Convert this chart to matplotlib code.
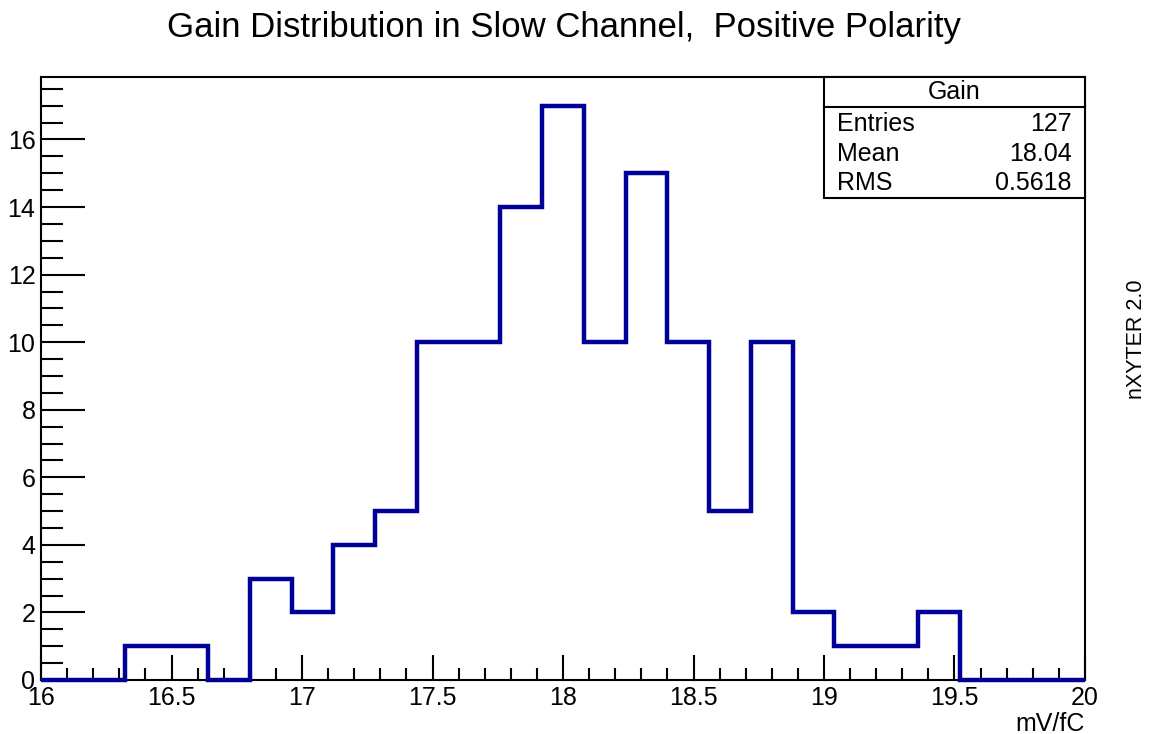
import numpy as np
import matplotlib
matplotlib.use("Agg")
import matplotlib.pyplot as plt
from matplotlib.patches import Rectangle
from matplotlib.ticker import MultipleLocator

plt.rcParams['font.family'] = ['Liberation Sans', 'DejaVu Sans']

# histogram data (25 bins, 16..20)
x_min, x_max, n_bins = 16.0, 20.0, 25
counts = [0, 0, 1, 1, 0, 3, 2, 4, 5, 10, 10, 14, 17,
          10, 15, 10, 5, 10, 2, 1, 1, 2, 0, 0, 0]
stats_labels = ["Entries", "Mean", "RMS"]
stats_values = ["127", "18.04", "0.5618"]

edges = np.linspace(x_min, x_max, n_bins + 1)

fig = plt.figure(figsize=(11.53, 7.34), dpi=100)
ax = fig.add_axes([0.0356, 0.0736, 0.9054, 0.8215])

ax.stairs(counts, edges, color='#000099', linewidth=3.2, baseline=0,
          clip_on=False, zorder=3)

ax.set_xlim(x_min, x_max)
ax.set_ylim(0, 17.85)

ax.xaxis.set_major_locator(MultipleLocator(0.5))
ax.xaxis.set_minor_locator(MultipleLocator(0.1))
ax.yaxis.set_major_locator(MultipleLocator(2))
ax.yaxis.set_minor_locator(MultipleLocator(0.5))

ax.tick_params(axis='x', which='major', direction='in', length=18, width=1.5,
               labelsize=18, pad=4)
ax.tick_params(axis='x', which='minor', direction='in', length=9, width=1.5)
ax.tick_params(axis='y', which='major', direction='in', length=32, width=1.5,
               labelsize=18, pad=4)
ax.tick_params(axis='y', which='minor', direction='in', length=16, width=1.5)
ax.xaxis.set_major_formatter(matplotlib.ticker.FuncFormatter(lambda v, p: f"{v:g}"))

for s in ax.spines.values():
    s.set_linewidth(1.5)

ax.set_xlabel("mV/fC", fontsize=18, loc='right', labelpad=2)

fig.text(0.489, 0.962, "Gain Distribution in Slow Channel,  Positive Polarity",
         ha='center', va='center', fontsize=25)
fig.text(0.986, 0.538, "nXYTER 2.0", rotation=90, ha='center', va='center',
         fontsize=15.5)

# stats box
bx0, by0 = 0.75, 0.799
ax.add_patch(Rectangle((bx0, by0), 1 - bx0, 1 - by0, transform=ax.transAxes,
                       facecolor='white', edgecolor='black', linewidth=1.5,
                       zorder=5, clip_on=False))
ax.plot([bx0, 1.0], [0.950, 0.950], transform=ax.transAxes, color='black',
        linewidth=1.5, zorder=6, clip_on=False)
ax.text((bx0 + 1) / 2, 0.975, "Gain", transform=ax.transAxes, ha='center',
        va='center', fontsize=18, zorder=7)
ys = [0.922, 0.873, 0.824]
for lab, val, y in zip(stats_labels, stats_values, ys):
    ax.text(0.762, y, lab, transform=ax.transAxes, ha='left', va='center',
            fontsize=18, zorder=7)
    ax.text(0.9875, y, val, transform=ax.transAxes, ha='right', va='center',
            fontsize=18, zorder=7)

fig.savefig("out.png", dpi=100)
